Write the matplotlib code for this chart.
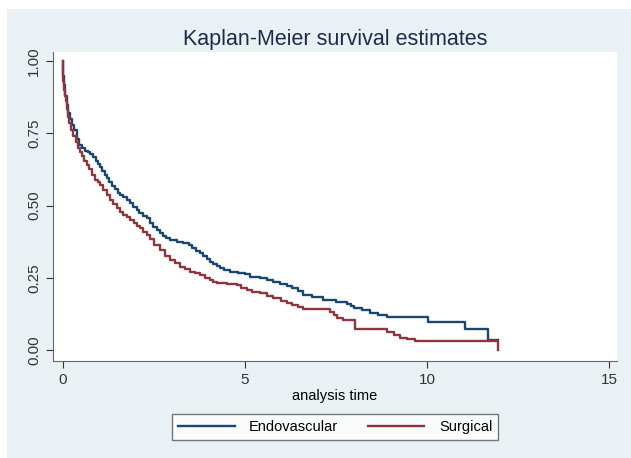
import numpy as np
import matplotlib.pyplot as plt
from matplotlib.patches import Rectangle

plt.rcParams['font.family'] = ['Liberation Sans', 'DejaVu Sans']

# Kaplan-Meier step points
endo_t = [0, 0.01, 0.03, 0.06, 0.1, 0.15, 0.2, 0.24, 0.3, 0.38, 0.45, 0.52, 0.6, 0.68, 0.74,
          0.82, 0.9, 0.96, 1.02, 1.08, 1.14, 1.2, 1.27, 1.34, 1.42, 1.5, 1.57, 1.66, 1.75, 1.84,
          1.93, 2.02, 2.1, 2.2, 2.3, 2.39, 2.48, 2.57, 2.66, 2.75, 2.82, 2.95, 3.12, 3.3, 3.45,
          3.55, 3.65, 3.76, 3.85, 3.95, 4.04, 4.12, 4.22, 4.31, 4.42, 4.59, 4.8, 5.0, 5.14, 5.41,
          5.6, 5.78, 5.95, 6.14, 6.3, 6.45, 6.6, 6.85, 7.15, 7.5, 7.79, 7.9, 8.0, 8.2, 8.43,
          8.65, 8.89, 10.03, 11.04, 11.68, 11.96]
endo_s = [1.0, 0.95, 0.917, 0.88, 0.848, 0.82, 0.80, 0.779, 0.76, 0.732, 0.71, 0.70, 0.69, 0.684, 0.678,
          0.668, 0.655, 0.645, 0.634, 0.62, 0.606, 0.595, 0.58, 0.568, 0.556, 0.545, 0.536, 0.528, 0.519, 0.508,
          0.495, 0.484, 0.475, 0.465, 0.456, 0.44, 0.425, 0.415, 0.405, 0.395, 0.386, 0.38, 0.375, 0.37, 0.363,
          0.352, 0.343, 0.335, 0.325, 0.315, 0.306, 0.298, 0.29, 0.283, 0.277, 0.271, 0.268, 0.262, 0.254, 0.25,
          0.242, 0.236, 0.23, 0.222, 0.214, 0.205, 0.19, 0.183, 0.173, 0.167, 0.16, 0.152, 0.145, 0.138, 0.128,
          0.12, 0.113, 0.098, 0.072, 0.035, 0.035]

surg_t = [0, 0.01, 0.03, 0.05, 0.07, 0.1, 0.13, 0.16, 0.22, 0.28, 0.35, 0.41, 0.47, 0.53, 0.59,
          0.65, 0.72, 0.8, 0.88, 0.95, 1.02, 1.1, 1.2, 1.29, 1.38, 1.47, 1.57, 1.66, 1.75, 1.84,
          1.94, 2.03, 2.12, 2.2, 2.3, 2.39, 2.5, 2.66, 2.8, 2.94, 3.07, 3.21, 3.35, 3.49, 3.62,
          3.76, 3.9, 4.04, 4.13, 4.22, 4.5, 4.77, 4.9, 5.05, 5.2, 5.41, 5.6, 5.78, 6.0, 6.15,
          6.3, 6.45, 6.6, 7.34, 7.45, 7.52, 7.7, 8.02, 8.89, 9.1, 9.26, 9.45, 9.67, 11.96]
surg_s = [1.0, 0.93, 0.90, 0.88, 0.862, 0.835, 0.808, 0.785, 0.762, 0.742, 0.72, 0.70, 0.686, 0.67, 0.655,
          0.64, 0.625, 0.605, 0.59, 0.58, 0.571, 0.555, 0.535, 0.519, 0.505, 0.492, 0.479, 0.468, 0.459, 0.45,
          0.44, 0.43, 0.421, 0.41, 0.398, 0.385, 0.365, 0.345, 0.325, 0.311, 0.30, 0.288, 0.28, 0.271, 0.265,
          0.26, 0.25, 0.242, 0.236, 0.231, 0.228, 0.225, 0.215, 0.208, 0.20, 0.196, 0.188, 0.18, 0.17, 0.163,
          0.155, 0.148, 0.142, 0.132, 0.121, 0.112, 0.104, 0.072, 0.062, 0.052, 0.042, 0.037, 0.032, 0.0]

labels = ['Endovascular', 'Surgical']
colors = ['#1a476f', '#90353b']

fig = plt.figure(figsize=(6.31, 4.58), dpi=100, facecolor='white')
# Stata-like graph region (light blue-gray), leaving a thin white margin top/left
fig.patches.append(Rectangle((7 / 631, 0), 1 - 7 / 631, 1 - 9 / 458, transform=fig.transFigure,
                             facecolor='#eaf1f4', edgecolor='none', zorder=-10))

ax = fig.add_axes([0.084, 0.212, 0.894, 0.674])
ax.set_zorder(1)
ax.set_facecolor('white')

ax.step(endo_t, endo_s, where='post', color=colors[0], lw=1.7, label=labels[0])
ax.step(surg_t, surg_s, where='post', color=colors[1], lw=1.7, label=labels[1])

ax.set_xlim(-0.275, 15.22)
ax.set_ylim(-0.038, 1.031)
ax.set_xticks([0, 5, 10, 15])
ax.set_yticks([0, 0.25, 0.5, 0.75, 1.0])
ax.set_yticklabels(['0.00', '0.25', '0.50', '0.75', '1.00'], rotation=90, va='center')
ax.tick_params(labelsize=11, colors='#333333', length=5)
for s in ['top', 'right']:
    ax.spines[s].set_visible(False)
for s in ['left', 'bottom']:
    ax.spines[s].set_color('#666666')

ax.set_xlabel('analysis time', fontsize=10.5, labelpad=2)
fig.text(0.531, 0.913, 'Kaplan-Meier survival estimates', ha='center', va='center',
         fontsize=15.5, color='#1e2b50')

leg = fig.legend(loc='center', bbox_to_anchor=(0.531, 0.068), ncol=2, frameon=True,
                 fancybox=False, edgecolor='#555555', fontsize=10.5, handlelength=3.9,
                 handletextpad=1.0, columnspacing=2.0)
leg.get_frame().set_linewidth(1.0)

fig.savefig('out.png', dpi=100, facecolor=fig.get_facecolor())
